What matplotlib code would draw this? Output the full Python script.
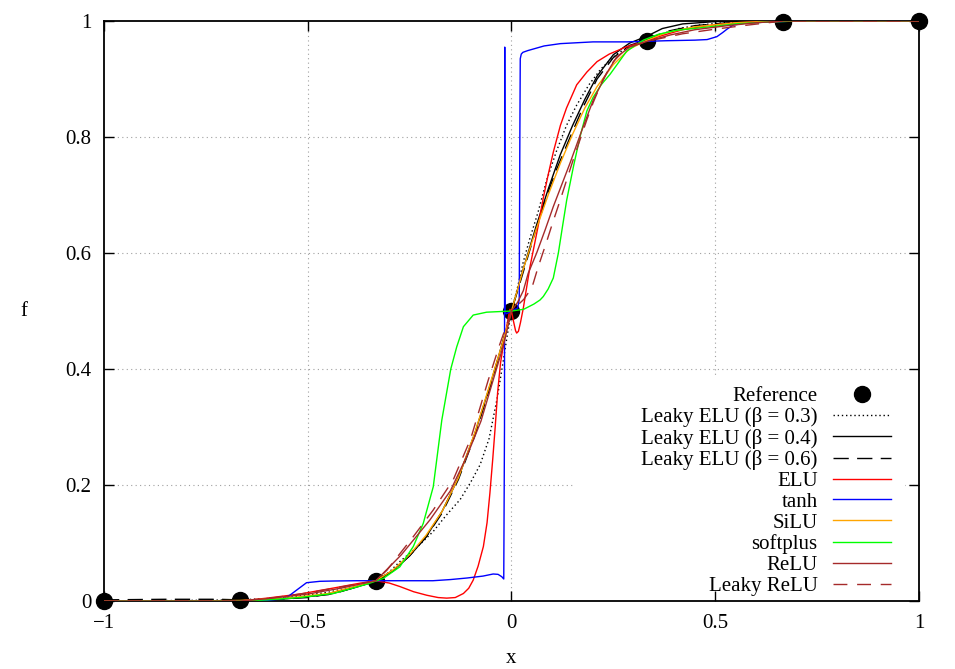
import matplotlib
matplotlib.use("Agg")
import matplotlib.pyplot as plt
from matplotlib.patches import Rectangle
from matplotlib.ticker import FuncFormatter

plt.rcParams['font.family'] = ['Liberation Serif', 'DejaVu Serif']
plt.rcParams['font.size'] = 15

# reference points
ref_x = [-1, -0.6667, -0.3333, 0, 0.3333, 0.6667, 1]
ref_f = [0.0, 0.0013, 0.0344, 0.5, 0.9656, 0.9987, 1.0]

# Leaky ELU (beta = 0.3)
lelu3_x = [-1, -0.8, -0.667, -0.55, -0.45, -0.38, -0.333, -0.3, -0.274, -0.23, -0.192, -0.16,
           -0.126, -0.1, -0.077, -0.055, -0.035, -0.02, -0.01, 0, 0.013, 0.029, 0.045, 0.065,
           0.086, 0.11, 0.135, 0.16, 0.19, 0.22, 0.26, 0.3, 0.333, 0.37, 0.41, 0.46, 0.52,
           0.6, 0.7, 1]
lelu3_f = [0, 0.001, 0.002, 0.006, 0.015, 0.026, 0.034, 0.05, 0.068, 0.094, 0.12, 0.148,
           0.175, 0.205, 0.235, 0.28, 0.35, 0.415, 0.46, 0.5, 0.535, 0.585, 0.625, 0.67,
           0.725, 0.775, 0.82, 0.855, 0.89, 0.918, 0.944, 0.96, 0.967, 0.978, 0.987, 0.993,
           0.997, 0.999, 1, 1]

# Leaky ELU (beta = 0.4)
lelu4_x = [-1, -0.8, -0.667, -0.55, -0.45, -0.38, -0.333, -0.29, -0.25, -0.21, -0.17, -0.13,
           -0.09, -0.05, -0.02, 0, 0.03, 0.06, 0.09, 0.12, 0.15, 0.18, 0.21, 0.25, 0.29,
           0.333, 0.37, 0.42, 0.5, 0.6, 1]
lelu4_f = [0, 0, 0, 0.004, 0.011, 0.024, 0.035, 0.053, 0.078, 0.11, 0.155, 0.213,
           0.289, 0.378, 0.45, 0.5, 0.575, 0.645, 0.71, 0.77, 0.82, 0.865, 0.905, 0.942,
           0.962, 0.974, 0.987, 0.995, 0.999, 1, 1]

# Leaky ELU (beta = 0.6)
lelu6_x = [-1, -0.85, -0.72, -0.667, -0.6, -0.5, -0.42, -0.333, -0.29, -0.25, -0.21, -0.17,
           -0.13, -0.09, -0.05, -0.02, 0, 0.03, 0.062, 0.09, 0.111, 0.144, 0.176, 0.21,
           0.25, 0.29, 0.333, 0.38, 0.45, 0.55, 0.65, 1]
lelu6_f = [0.002, 0.003, 0.003, 0.002, 0.002, 0.006, 0.016, 0.034, 0.052, 0.078, 0.11, 0.152,
           0.21, 0.285, 0.375, 0.45, 0.5, 0.57, 0.645, 0.705, 0.745, 0.8, 0.852, 0.9,
           0.937, 0.958, 0.968, 0.982, 0.992, 0.998, 1, 1]

# ELU
elu_x = [-1, -0.8, -0.667, -0.6, -0.52, -0.44, -0.37, -0.333, -0.3, -0.274, -0.24, -0.208,
         -0.18, -0.159, -0.138, -0.118, -0.105, -0.094, -0.082, -0.069, -0.06, -0.053,
         -0.046, -0.04, -0.034, -0.027, -0.018, -0.01, -0.004, 0.0, 0.005, 0.01, 0.0127,
         0.017, 0.022, 0.029, 0.037, 0.045, 0.055, 0.065, 0.078, 0.09, 0.103, 0.12, 0.135,
         0.16, 0.185, 0.21, 0.24, 0.28, 0.323, 0.37, 0.42, 0.48, 0.55, 0.65, 1]
elu_f = [0, 0, 0, 0.005, 0.012, 0.022, 0.031, 0.035, 0.031, 0.025, 0.016, 0.01,
         0.006, 0.005, 0.006, 0.013, 0.022, 0.036, 0.06, 0.094, 0.135, 0.186,
         0.245, 0.3, 0.36, 0.41, 0.45, 0.48, 0.503, 0.5, 0.482, 0.466, 0.462,
         0.465, 0.48, 0.505, 0.54, 0.575, 0.61, 0.645, 0.695, 0.735, 0.775, 0.82, 0.85,
         0.89, 0.912, 0.93, 0.943, 0.955, 0.964, 0.975, 0.985, 0.992, 0.997, 1, 1]

# tanh
tanh_x = [-1, -0.8, -0.667, -0.6, -0.56, -0.544, -0.527, -0.503, -0.47, -0.438, -0.38, -0.333,
          -0.25, -0.193, -0.15, -0.109, -0.07, -0.045, -0.033, -0.024, -0.019, -0.0172,
          -0.0166, -0.016, -0.013, 0.0, 0.015, 0.019, 0.0205, 0.0215, 0.024, 0.028, 0.04,
          0.06, 0.08, 0.12, 0.2, 0.283, 0.38, 0.45, 0.48, 0.504, 0.518, 0.529, 0.544, 0.57,
          0.62, 0.7, 1]
tanh_f = [0, 0, 0, 0.001, 0.004, 0.01, 0.019, 0.0316, 0.034, 0.0345, 0.035, 0.035,
          0.035, 0.035, 0.037, 0.0397, 0.043, 0.0466, 0.046, 0.042, 0.038, 0.3,
          0.955, 0.5, 0.495, 0.5, 0.505, 0.52, 0.8, 0.935, 0.943, 0.946, 0.949,
          0.953, 0.957, 0.961, 0.964, 0.964, 0.966, 0.967, 0.968, 0.973, 0.98, 0.986, 0.993,
          0.996, 0.998, 1, 1]

# SiLU
silu_x = [-1, -0.8, -0.667, -0.55, -0.45, -0.38, -0.333, -0.29, -0.25, -0.21, -0.17, -0.13,
          -0.09, -0.05, -0.02, 0, 0.03, 0.06, 0.09, 0.12, 0.15, 0.18, 0.21, 0.25, 0.29,
          0.333, 0.38, 0.45, 0.55, 0.65, 1]
silu_f = [0, 0, 0.001, 0.005, 0.013, 0.026, 0.035, 0.054, 0.08, 0.113, 0.155, 0.213,
          0.29, 0.38, 0.45, 0.5, 0.575, 0.64, 0.7, 0.755, 0.805, 0.85, 0.887, 0.925, 0.952,
          0.967, 0.98, 0.99, 0.997, 1, 1]

# softplus
soft_x = [-1, -0.8, -0.667, -0.6, -0.519, -0.437, -0.355, -0.3145, -0.274, -0.241, -0.2165,
          -0.192, -0.171, -0.149, -0.1345, -0.118, -0.094, -0.061, -0.03, 0, 0.03, 0.055,
          0.07, 0.078, 0.09, 0.1026, 0.115, 0.125, 0.1354, 0.152, 0.168, 0.185, 0.2, 0.22,
          0.2417, 0.2827, 0.3235, 0.36, 0.405, 0.487, 0.55, 0.62, 0.7, 1]
soft_f = [0, 0, 0, 0.002, 0.006, 0.013, 0.029, 0.039, 0.059, 0.094, 0.134,
          0.197, 0.312, 0.4, 0.438, 0.473, 0.493, 0.498, 0.499, 0.5, 0.503, 0.512,
          0.519, 0.525, 0.538, 0.557, 0.6, 0.645, 0.691, 0.749, 0.8, 0.845, 0.868, 0.89,
          0.908, 0.948, 0.967, 0.977, 0.984, 0.99, 0.995, 0.998, 1, 1]

# ReLU
relu_x = [-1, -0.8, -0.667, -0.6, -0.5, -0.42, -0.333, -0.27, -0.2, -0.15, -0.11, -0.075,
          -0.045, -0.02, 0, 0.015, 0.029, 0.041, 0.0617, 0.0826, 0.1026, 0.1436, 0.176,
          0.2008, 0.2336, 0.258, 0.29, 0.333, 0.39, 0.45, 0.53, 0.6, 0.667, 1]
relu_f = [0, 0, 0, 0.004, 0.012, 0.022, 0.035, 0.08, 0.14, 0.19, 0.249, 0.31,
          0.381, 0.44, 0.5, 0.515, 0.535, 0.565, 0.6, 0.64, 0.68, 0.755, 0.818,
          0.864, 0.91, 0.938, 0.955, 0.965, 0.976, 0.985, 0.992, 0.997, 1, 1]

# Leaky ReLU
lrelu_x = [-1, -0.8, -0.667, -0.58, -0.5, -0.42, -0.333, -0.306, -0.241, -0.192, -0.143,
           -0.1, -0.057, -0.03, 0, 0.015, 0.03, 0.05, 0.065, 0.0864, 0.1, 0.119, 0.135,
           0.152, 0.168, 0.185, 0.2008, 0.225, 0.25, 0.283, 0.333, 0.42, 0.5, 0.58, 0.667, 1]
lrelu_f = [0, 0, 0, 0.006, 0.014, 0.024, 0.035, 0.053, 0.111, 0.157, 0.209,
           0.28, 0.381, 0.44, 0.5, 0.51, 0.52, 0.54, 0.575, 0.62, 0.65, 0.69, 0.725,
           0.762, 0.795, 0.83, 0.86, 0.9, 0.93, 0.954, 0.965, 0.978, 0.986, 0.993, 1, 1]

fig = plt.figure(figsize=(9.55, 6.69), dpi=100)
ax = fig.add_axes([0.1089, 0.1016, 0.8534, 0.867])

lw = 1.0
ax.plot(ref_x, ref_f, 'o', color='black', ms=11.5, clip_on=False, zorder=3, label='Reference')
ax.plot(lelu3_x, lelu3_f, color='black', lw=lw, ls=(0, (1, 2)), zorder=4,
        label='Leaky ELU (β = 0.3)')
ax.plot(lelu4_x, lelu4_f, color='black', lw=lw, zorder=5, label='Leaky ELU (β = 0.4)')
ax.plot(lelu6_x, lelu6_f, color='black', lw=lw, ls=(0, (11, 6)), zorder=6,
        label='Leaky ELU (β = 0.6)')
ax.plot(elu_x, elu_f, color='#ff0000', lw=lw, zorder=7, label='ELU')
ax.plot(tanh_x, tanh_f, color='#0000ff', lw=lw, zorder=8, label='tanh')
ax.plot(silu_x, silu_f, color='#ffa500', lw=lw, zorder=9, label='SiLU')
ax.plot(soft_x, soft_f, color='#00ff00', lw=lw, zorder=10, label='softplus')
ax.plot(relu_x, relu_f, color='#a52a2a', lw=lw, zorder=11, label='ReLU')
ax.plot(lrelu_x, lrelu_f, color='#a52a2a', lw=lw, ls=(0, (10, 7)), zorder=12,
        label='Leaky ReLU')

ax.set_xlim(-1, 1)
ax.set_ylim(0, 1)
ax.set_xticks([-1, -0.5, 0, 0.5, 1])
ax.set_yticks([0, 0.2, 0.4, 0.6, 0.8, 1])
fmt = FuncFormatter(lambda v, p: f'{v:g}'.replace('-', '\u2212'))
ax.xaxis.set_major_formatter(fmt)
ax.yaxis.set_major_formatter(fmt)
ax.tick_params(direction='in', length=7, width=1, top=True, right=True, pad=9,
               labelsize=15)
for s in ax.spines.values():
    s.set_linewidth(1.3)

# dotted grid at inner ticks
for v in [-0.5, 0, 0.5]:
    ax.axvline(v, color='#a0a0a0', lw=0.8, ls=(0, (1, 3)), zorder=1)
for v in [0.2, 0.4, 0.6, 0.8]:
    ax.axhline(v, color='#a0a0a0', lw=0.8, ls=(0, (1, 3)), zorder=1)

# white key background (hides the grid)
ax.add_patch(Rectangle((0.156, 0.0), 0.81, 0.385, facecolor='white', edgecolor='none',
                       zorder=1.2))

ax.set_xlabel('x', fontsize=15, labelpad=12)
ax.set_ylabel('f', fontsize=15, rotation=0, labelpad=30, va='center')

leg = ax.legend(loc='lower right', bbox_to_anchor=(0.978, -0.009), frameon=False,
                markerfirst=False, borderpad=0, handlelength=2.75, handletextpad=0.75,
                labelspacing=0.065, fontsize=15, numpoints=1)

fig.savefig('out.png', dpi=100)
